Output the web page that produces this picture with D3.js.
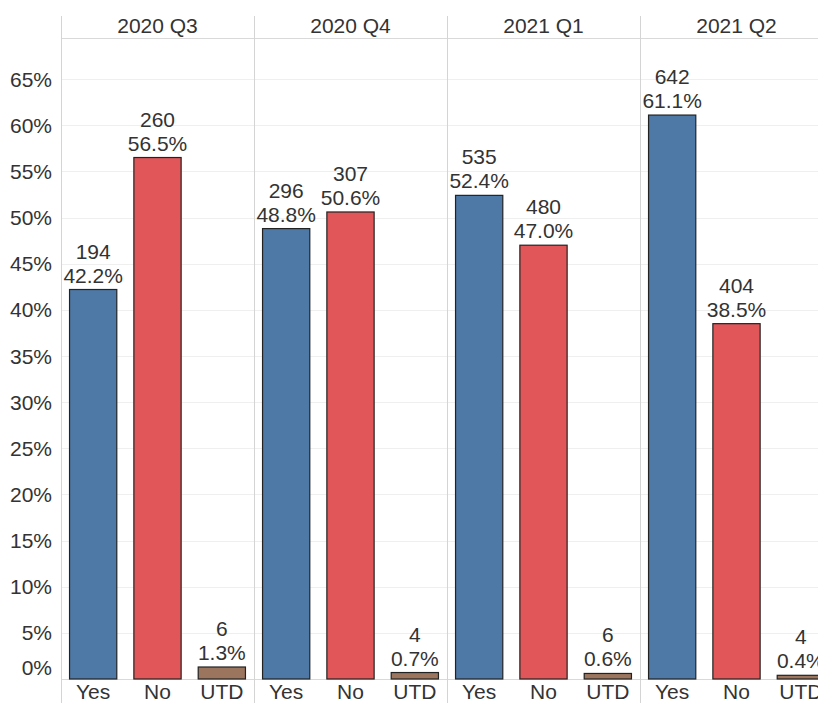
<!DOCTYPE html>
<html>
<head>
<meta charset="utf-8">
<script src="https://cdn.jsdelivr.net/npm/d3@7"></script>
<style>
html, body { margin: 0; padding: 0; background: #fff; overflow: hidden; }
svg { display: block; font-family: "Liberation Sans", Arial, sans-serif; }
</style>
</head>
<body>
<svg id="chart" width="818" height="703"></svg>
<script>
const quarters = ["2020 Q3", "2020 Q4", "2021 Q1", "2021 Q2"];
const answers = ["Yes", "No", "UTD"];
const counts = [
  [194, 260, 6],
  [296, 307, 4],
  [535, 480, 6],
  [642, 404, 4]
];
const percents = [
  [42.2, 56.5, 1.3],
  [48.8, 50.6, 0.7],
  [52.4, 47.0, 0.6],
  [61.1, 38.5, 0.4]
];
const yTicks = [0, 5, 10, 15, 20, 25, 30, 35, 40, 45, 50, 55, 60, 65];
const colors = ["#4e79a7", "#e15759", "#9c755f"];

(function () {
const svg = d3.select("#chart");
const plotLeft = 61, panelW = 193, plotTop = 38, plotBottom = 679, headerTop = 16;
const fs = 21;

const panelX = d3.scaleBand().domain(quarters).range([plotLeft, plotLeft + panelW * quarters.length]).padding(0);
const x = d3.scaleBand().domain(answers).range([0, panelW]).paddingInner(0.25).paddingOuter(0.125);
const y = d3.scaleLinear().domain([0, 69.45]).range([plotBottom, plotTop]);

// gridlines
svg.append("g").selectAll("line").data(yTicks.filter(d => d > 0)).join("line")
  .attr("x1", plotLeft).attr("x2", 818)
  .attr("y1", d => Math.round(y(d)) + 0.5).attr("y2", d => Math.round(y(d)) + 0.5)
  .attr("stroke", "#efefef").attr("stroke-width", 1);

// header line & baseline
svg.append("line").attr("x1", plotLeft).attr("x2", 818).attr("y1", plotTop + 0.5).attr("y2", plotTop + 0.5)
  .attr("stroke", "#d9d9d9");
svg.append("line").attr("x1", plotLeft).attr("x2", 818).attr("y1", plotBottom + 0.5).attr("y2", plotBottom + 0.5)
  .attr("stroke", "#d9d9d9");

// panel dividers
svg.append("g").selectAll("line").data(quarters).join("line")
  .attr("x1", d => Math.round(panelX(d)) + 0.5).attr("x2", d => Math.round(panelX(d)) + 0.5)
  .attr("y1", headerTop).attr("y2", 703)
  .attr("stroke", "#d4d4d4");

// y tick labels
svg.append("g").selectAll("text").data(yTicks).join("text")
  .attr("x", 52)
  .attr("y", d => Math.min(y(d), plotBottom - 12))
  .attr("dy", "0.36em")
  .attr("text-anchor", "end")
  .attr("font-size", fs).attr("fill", "#333")
  .text(d => d + "%");

// headers
svg.append("g").selectAll("text").data(quarters).join("text")
  .attr("x", d => panelX(d) + panelW / 2)
  .attr("y", 33)
  .attr("text-anchor", "middle")
  .attr("font-size", fs).attr("fill", "#333")
  .text(d => d);

// panels
quarters.forEach((q, qi) => {
  const g = svg.append("g").attr("transform", `translate(${panelX(q)},0)`);
  const data = answers.map((a, ai) => ({ a, ai, c: counts[qi][ai], p: percents[qi][ai] }));
  g.selectAll("rect").data(data).join("rect")
    .attr("x", d => x(d.a) + 0.5)
    .attr("width", x.bandwidth() - 1)
    .attr("y", d => y(d.p))
    .attr("height", d => plotBottom - y(d.p))
    .attr("fill", d => colors[d.ai])
    .attr("stroke", "#222").attr("stroke-width", 1.2);
  g.selectAll("text.pct").data(data).join("text").attr("class", "pct")
    .attr("x", d => x(d.a) + x.bandwidth() / 2)
    .attr("y", d => y(d.p) - 7)
    .attr("text-anchor", "middle").attr("font-size", fs).attr("fill", "#333")
    .text(d => d.p.toFixed(1) + "%");
  g.selectAll("text.cnt").data(data).join("text").attr("class", "cnt")
    .attr("x", d => x(d.a) + x.bandwidth() / 2)
    .attr("y", d => y(d.p) - 31)
    .attr("text-anchor", "middle").attr("font-size", fs).attr("fill", "#333")
    .text(d => d.c);
  g.selectAll("text.xl").data(data).join("text").attr("class", "xl")
    .attr("x", d => x(d.a) + x.bandwidth() / 2)
    .attr("y", 699)
    .attr("text-anchor", "middle").attr("font-size", fs).attr("fill", "#333")
    .text(d => d.a);
});
})();
</script>
</body>
</html>
